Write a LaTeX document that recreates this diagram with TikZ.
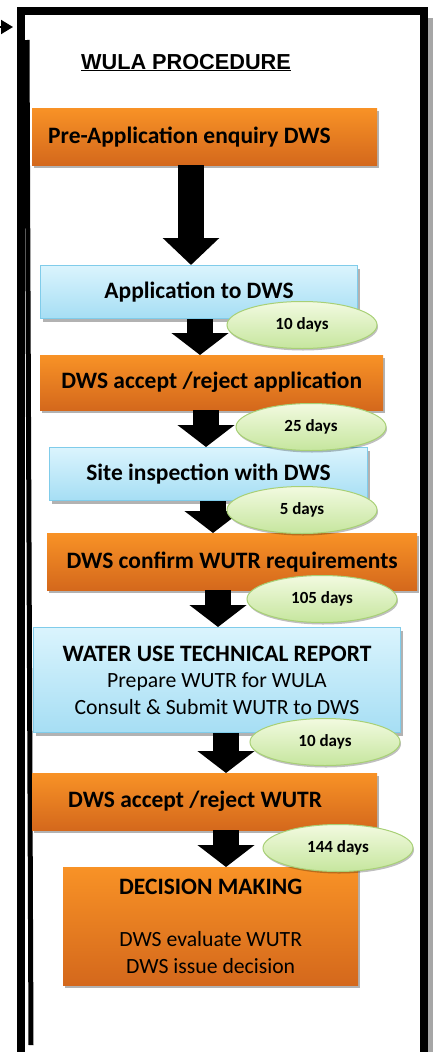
\documentclass[tikz,border=0pt]{standalone}
\usepackage{fontspec}
\setmainfont{Carlito}
\newfontfamily\titlefont{Liberation Sans}
\usetikzlibrary{arrows.meta,shadows,shapes.geometric}
\definecolor{orTop}{RGB}{248,146,38}
\definecolor{orBot}{RGB}{212,104,28}
\definecolor{blTop}{RGB}{218,244,253}
\definecolor{blBot}{RGB}{166,222,244}
\definecolor{blLine}{RGB}{128,204,234}
\definecolor{grTop}{RGB}{242,250,224}
\definecolor{grBot}{RGB}{198,230,158}
\definecolor{grLine}{RGB}{168,208,118}
\newcommand{\reg}[1]{{\mdseries\fontsize{21.7}{26}\selectfont #1}}
\begin{document}
\begin{tikzpicture}[x=1pt,y=-1pt,
  boxbase/.style={anchor=north west, inner sep=0pt, align=center,
    font=\bfseries\fontsize{23.5}{26.5}\selectfont,
    drop shadow={shadow xshift=2pt, shadow yshift=-3pt, opacity=0.3, fill=black}},
  orangebox/.style={boxbase, top color=orTop, bottom color=orBot, draw=none},
  bluebox/.style={boxbase, top color=blTop, bottom color=blBot, draw=blLine, line width=1pt},
  days/.style={ellipse, minimum width=150pt, minimum height=47pt, inner sep=0pt,
    top color=grTop, bottom color=grBot, draw=grLine, line width=1pt,
    font=\bfseries\fontsize{17}{20}\selectfont,
    drop shadow={shadow xshift=1pt, shadow yshift=-2pt, opacity=0.25, fill=black}},
  blk/.style={line width=26pt, black, -{Triangle[width=56pt,length=22pt]}},
  frameline/.style={line width=8pt, black}
]
\useasboundingbox (0,0) rectangle (435,1052);
\clip (0,0) rectangle (435,1052);

% frame
\draw[line width=5pt, black!35] (430,18) -- (430,1060);
\draw[frameline] (21,1060) -- (21,11) -- (424,11) -- (424,1060);
\draw[line width=5pt, black] (27,40) -- (31,1045);
\coordinate (inA) at (-10,27);
\coordinate (inB) at (13,27);
\draw[line width=2pt, -{Triangle[width=14pt,length=12pt]}] (inA) -- (inB);

% title
\node[font=\titlefont\bfseries\fontsize{21.7}{25}\selectfont, anchor=base] (title) at (186,69) {\underline{WULA PROCEDURE}};

% boxes
\node[orangebox, minimum width=345pt, minimum height=57pt, text width=313pt, align=flush left, inner xsep=16pt] (pre) at (32,108) {Pre-Application enquiry DWS};
\node[bluebox, minimum width=317pt, minimum height=53pt] (app) at (40,265) {Application to DWS};
\node[orangebox, minimum width=343pt, minimum height=55pt] (acc) at (40,355) {DWS accept /reject application};
\node[bluebox, minimum width=318pt, minimum height=53pt] (site) at (49,447) {Site inspection with DWS};
\node[orangebox, minimum width=370pt, minimum height=57pt] (conf) at (47,533) {DWS confirm WUTR requirements};
\node[bluebox, minimum width=367pt, minimum height=105pt] (wutr) at (33,627) {WATER USE TECHNICAL REPORT\\ \reg{Prepare WUTR for WULA}\\ \reg{Consult \& Submit WUTR to DWS}};
\node[orangebox, minimum width=345pt, minimum height=57pt, text width=273pt, align=flush left, inner xsep=36pt] (accw) at (32,773) {DWS accept /reject WUTR};
\node[orangebox, minimum width=295pt, minimum height=118pt] (dec) at (63,867) {DECISION MAKING\\[26pt] \reg{DWS evaluate WUTR}\\ \reg{DWS issue decision}};

% arrows
\coordinate (c1) at (191,0);
\coordinate (c2) at (200,0);
\coordinate (c3) at (206,0);
\coordinate (c4) at (213,0);
\coordinate (c5) at (218,0);
\coordinate (c6) at (226,0);
\coordinate (c7) at (226,0);
\draw[blk, -{Triangle[width=55pt,length=27pt]}] (pre.south -| c1) -- (app.north -| c1);
\draw[blk] (app.south -| c2) -- (acc.north -| c2);
\draw[blk] (acc.south -| c3) -- (site.north -| c3);
\draw[blk] (site.south -| c4) -- (conf.north -| c4);
\draw[blk] (conf.south -| c5) -- (wutr.north -| c5);
\draw[blk] (wutr.south -| c6) -- (accw.north -| c6);
\draw[blk] (accw.south -| c7) -- (dec.north -| c7);

% durations
\node[days] (d1) at (302,325) {10 days};
\node[days] (d2) at (311,427) {25 days};
\node[days] (d3) at (302,510) {5 days};
\node[days] (d4) at (322,599) {105 days};
\node[days] (d5) at (325,742) {10 days};
\node[days] (d6) at (338,848) {144 days};
\end{tikzpicture}
\end{document}
